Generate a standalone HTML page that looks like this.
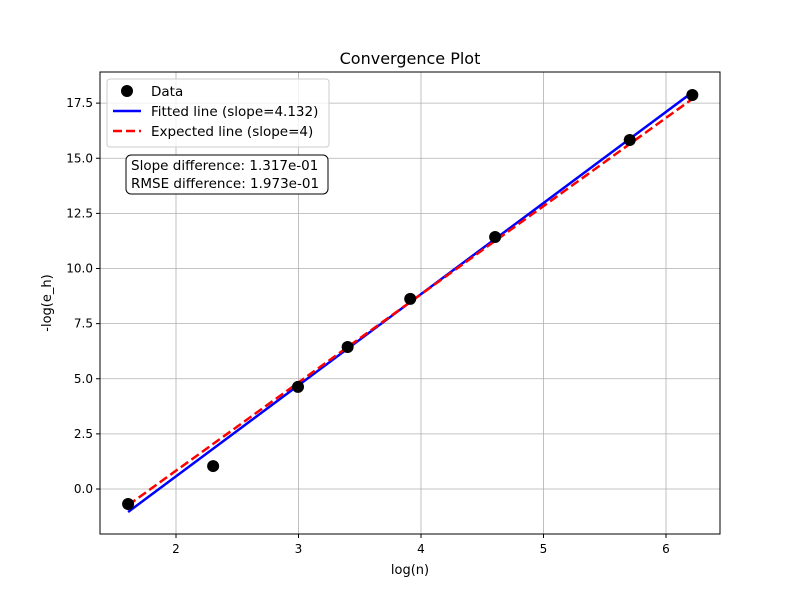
<!DOCTYPE html>
<html><head><meta charset="utf-8"><style>
body{margin:0;background:#fff;}
svg text{font-family:"DejaVu Sans","Liberation Sans",sans-serif;}
</style></head><body>
<svg id="chart" width="800" height="600" xmlns="http://www.w3.org/2000/svg">
<rect width="800" height="600" fill="#fff"/>
<g id="grid"></g>
<g id="series"></g>
<rect x="100" y="72" width="620" height="462" fill="none" stroke="#000" stroke-width="1"/>
<g id="ticks"></g>
<text x="410" y="64" text-anchor="middle" font-size="16">Convergence Plot</text>
<text x="410" y="574" text-anchor="middle" font-size="13">log(n)</text>
<text x="51" y="303" text-anchor="middle" font-size="13" transform="rotate(-90 51 303)">-log(e_h)</text>
<g>
<rect x="107" y="79" width="222" height="68" rx="3" fill="#fff" fill-opacity="0.8" stroke="#ccc"/>
<circle cx="127" cy="91" r="6" fill="#000"/>
<text x="151" y="96" font-size="13.5">Data</text>
<line x1="113" y1="111" x2="141" y2="111" stroke="#0000ff" stroke-width="2.5"/>
<text x="151" y="116" font-size="13.5">Fitted line (slope=4.132)</text>
<line x1="113" y1="131" x2="141" y2="131" stroke="#ff0000" stroke-width="2.5" stroke-dasharray="9,4"/>
<text x="151" y="136" font-size="13.5">Expected line (slope=4)</text>
</g>
<g>
<rect x="126" y="155" width="202" height="39" rx="5" fill="#fff" stroke="#000"/>
<text x="131" y="170" font-size="13.5">Slope difference: 1.317e-01</text>
<text x="131" y="188" font-size="13.5">RMSE difference: 1.973e-01</text>
</g>
</svg>
<script>
const xData=[1.609,2.303,2.996,3.401,3.912,4.605,5.704,6.215];
const yData=[-0.68,1.04,4.63,6.44,8.62,11.43,15.83,17.87];
const fitSlope=4.132, fitIntercept=-7.69;
const expSlope=4, expIntercept=-7.17;
const xTicks=[2,3,4,5,6];
const yTicks=[0,2.5,5,7.5,10,12.5,15,17.5];
const X=v=>176+(v-2)*122.5;
const Y=v=>489-v*22.05;
const NS="http://www.w3.org/2000/svg";
function mk(tag,attrs,parent){const e=document.createElementNS(NS,tag);for(const k in attrs)e.setAttribute(k,attrs[k]);document.getElementById(parent).appendChild(e);return e;}
xTicks.forEach(t=>{
 const g=mk('line',{x1:X(t),x2:X(t),y1:72,y2:534,stroke:'#b0b0b0','stroke-width':0.8},'grid');
 
 
 mk('line',{x1:X(t),x2:X(t),y1:534,y2:538,stroke:'#000'},'ticks');
 const l=mk('text',{x:X(t),y:553,'text-anchor':'middle','font-size':12},'ticks');
 l.textContent=t;
 
 
});
yTicks.forEach(t=>{
 const g=mk('line',{x1:100,x2:720,y1:Y(t),y2:Y(t),stroke:'#b0b0b0','stroke-width':0.8},'grid');
 
 
 mk('line',{x1:96,x2:100,y1:Y(t),y2:Y(t),stroke:'#000'},'ticks');
 const l=mk('text',{x:93,y:Y(t)+4,'text-anchor':'end','font-size':12},'ticks');
 l.textContent=t.toFixed(1);
 
 
});
const x0=xData[0],x1=xData[xData.length-1];
const fl=mk('line',{x1:X(x0),y1:Y(fitSlope*x0+fitIntercept),x2:X(x1),y2:Y(fitSlope*x1+fitIntercept),stroke:'#0000ff','stroke-width':2.5},'series');


const el=mk('line',{x1:X(x0),y1:Y(expSlope*x0+expIntercept),x2:X(x1),y2:Y(expSlope*x1+expIntercept),stroke:'#ff0000','stroke-width':2.5,'stroke-dasharray':'9,4'},'series');


xData.forEach((x,i)=>{
 const c=mk('circle',{cx:X(x),cy:Y(yData[i]),r:6,fill:'#000'},'series');
 
 
});
</script>
</body></html>
